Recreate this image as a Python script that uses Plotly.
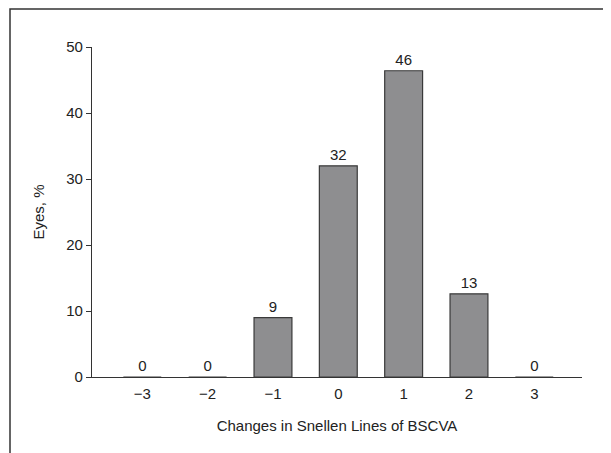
import plotly.graph_objects as go

changes = [-3, -2, -1, 0, 1, 2, 3]
tick_labels = ["\u22123", "\u22122", "\u22121", "0", "1", "2", "3"]
eyes_pct = [0, 0, 9, 32, 46.4, 12.6, 0]
bar_labels = ["0", "0", "9", "32", "46", "13", "0"]

FONT = "Liberation Sans, Arial, sans-serif"
OFF = 8  # page body margin
W, H = 611 - OFF, 453 - OFF
L, R, T, B = 92 - OFF, 29, 47 - OFF, 76
pw, ph = W - L - R, H - T - B

def px(x):
    return (x - OFF - L) / pw

def py(y):
    return (H - B - (y - OFF)) / ph

fig = go.Figure(go.Bar(
    x=changes, y=eyes_pct, width=0.58,
    marker=dict(color="#8e8e90", line=dict(color="#3a3a3a", width=1.2)),
    text=bar_labels, textposition="outside", cliponaxis=False,
    textfont=dict(family=FONT, size=15, color="#222"),
))

fig.update_layout(
    width=W, height=H,
    margin=dict(l=L, r=R, t=T, b=B),
    paper_bgcolor="white", plot_bgcolor="white",
    font=dict(family=FONT, size=15, color="#222"),
    showlegend=False,
    xaxis=dict(range=[-3.77, 3.73], tickvals=changes, ticktext=tick_labels,
               showgrid=False, zeroline=False, showline=True, linecolor="#333",
               linewidth=1.2, ticks="", ticklabelstandoff=3,
               title=dict(text="Changes in Snellen Lines of BSCVA",
                          standoff=19, font=dict(size=15))),
    yaxis=dict(range=[0, 50], tickvals=[0, 10, 20, 30, 40, 50],
               showgrid=False, zeroline=False, showline=True, linecolor="#333",
               linewidth=1.2, ticks="outside", ticklen=5, tickcolor="#333",
               title=dict(text="Eyes, %", standoff=17, font=dict(size=15))),
    shapes=[dict(type="path", xref="paper", yref="paper",
                 path=f"M {px(10)},{py(453)} L {px(10)},{py(9)} L {px(611)},{py(9)}",
                 line=dict(color="#333", width=1.5))],
)

fig.write_html("out.html")
